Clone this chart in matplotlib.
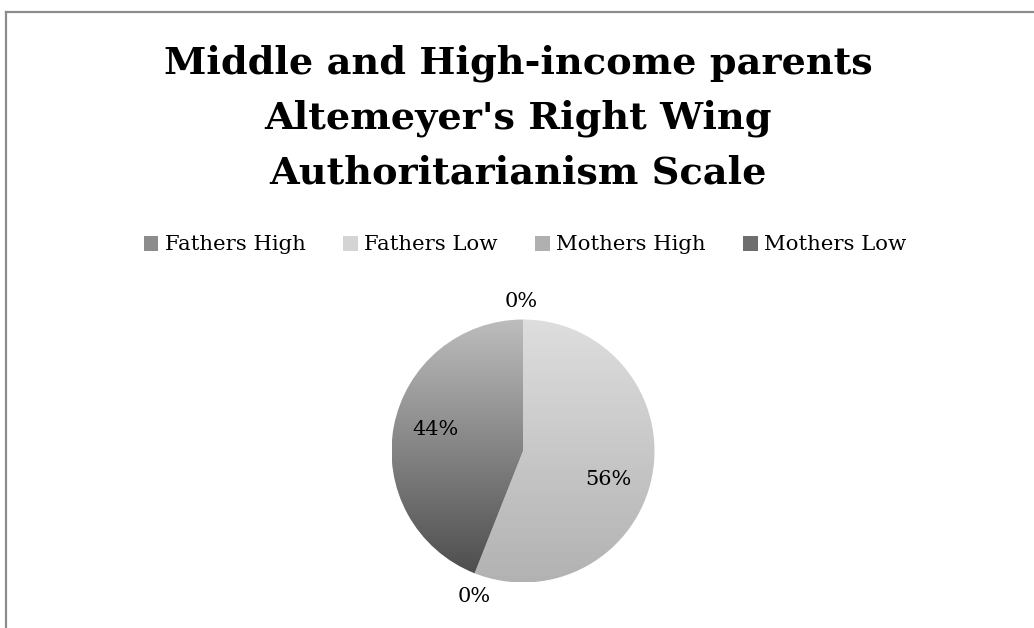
import matplotlib
matplotlib.use("Agg")
import matplotlib.pyplot as plt
import numpy as np
from matplotlib.patches import Patch
from matplotlib.colors import LinearSegmentedColormap

title = "Middle and High-income parents\nAltemeyer's Right Wing\nAuthoritarianism Scale"
labels = ["Fathers High", "Fathers Low", "Mothers High", "Mothers Low"]
values = [0, 56, 0, 44]
# gradient (top colour, bottom colour) of each slice
grad_top = ["#b8b8b8", "#dedede", "#cfcfcf", "#bdbdbd"]
grad_bot = ["#4a4a4a", "#b2b2b2", "#8e8e8e", "#4a4a4a"]
legend_colors = ["#8c8c8c", "#d4d4d4", "#b0b0b0", "#6e6e6e"]

plt.rcParams["font.family"] = "DejaVu Serif"

W, H = 1034, 628
fig = plt.figure(figsize=(W / 100, H / 100), dpi=100)

# outer chart frame (top and left edges visible)
fig.add_artist(plt.Line2D([6 / W, 6 / W], [0, 1 - 11.5 / H], color="#8c8c8c", lw=1.6,
                          transform=fig.transFigure))
fig.add_artist(plt.Line2D([6 / W, 1], [1 - 11.5 / H, 1 - 11.5 / H], color="#8c8c8c", lw=1.6,
                          transform=fig.transFigure))

fig.text(518 / W, 1 - 45 / H, title, ha="center", va="top", fontsize=27.5,
         fontweight="bold", linespacing=1.6)

# pie axes: centre (523, 451) px, radius 131.5 px
r = 131.5
lim = 1.4
side = 2 * lim * r
ax = fig.add_axes([(523 - side / 2) / W, (H - 451 - side / 2) / H, side / W, side / H])
ax.axis("off")

wedges, _ = ax.pie(values, startangle=90, counterclock=False, radius=1,
                   wedgeprops=dict(linewidth=0, alpha=0))
for w, v, t, b in zip(wedges, values, grad_top, grad_bot):
    if v == 0:
        continue
    cmap = LinearSegmentedColormap.from_list("g", [b, t])
    grad = np.linspace(0, 1, 256).reshape(-1, 1)
    im = ax.imshow(grad, cmap=cmap, extent=[-1, 1, -1, 1], origin="lower",
                   aspect="auto", zorder=1)
    im.set_clip_path(w)
ax.set_xlim(-lim, lim)
ax.set_ylim(-lim, lim)
ax.set_aspect("equal")

# percentage labels (Excel best-fit style)
total = sum(values)
label_pos = [(-0.01, 1.14), (0.646, -0.22), (-0.373, -1.11), (-0.662, 0.167)]
for v, (x, y) in zip(values, label_pos):
    ax.text(x, y, f"{round(100 * v / total)}%", ha="center", va="center", fontsize=15,
            clip_on=False)

handles = [Patch(facecolor=c, edgecolor="none") for c in legend_colors]
fig.legend(handles, labels, loc="center", bbox_to_anchor=(525 / W, 1 - 245 / H), ncol=4,
           frameon=False, fontsize=15.3, handlelength=0.7, handleheight=0.7,
           handletextpad=0.3, columnspacing=1.75)

fig.savefig("out.png", dpi=100)
